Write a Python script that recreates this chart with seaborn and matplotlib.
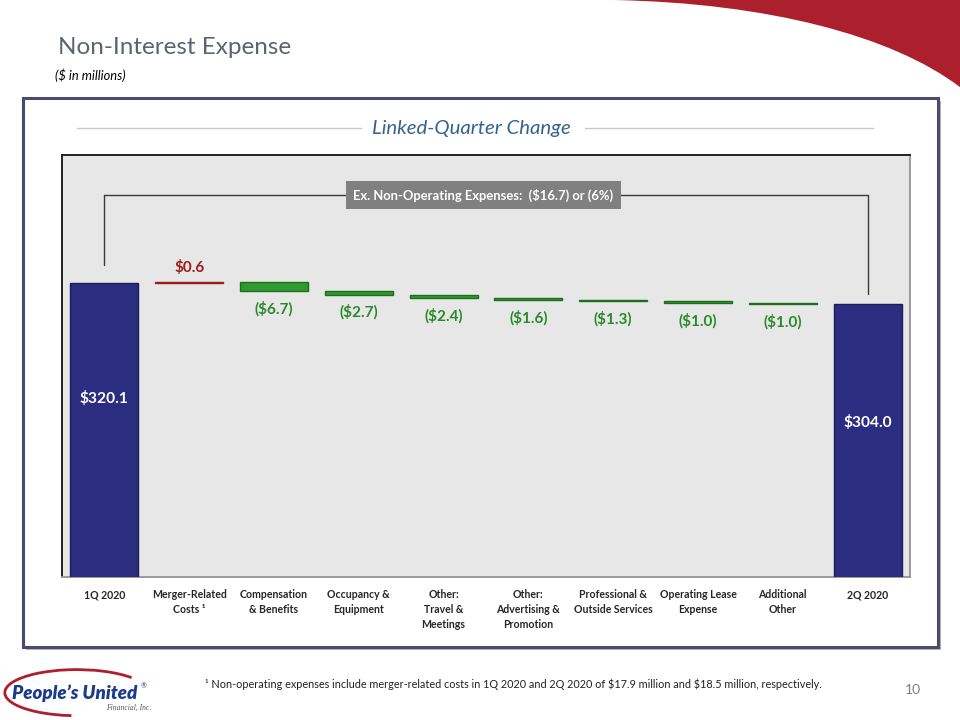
import numpy as np
import pandas as pd
import matplotlib.pyplot as plt
import matplotlib.patches as mpatches
from matplotlib.path import Path
import seaborn as sns

# chart data
categories = ["1Q 2020", "Merger-Related\nCosts \u00b9", "Compensation\n& Benefits", "Occupancy &\nEquipment",
              "Other:\nTravel &\nMeetings", "Other:\nAdvertising &\nPromotion", "Professional &\nOutside Services",
              "Operating Lease\nExpense", "Additional\nOther", "2Q 2020"]
start_total = 320.1
end_total = 304.0
changes = [0.6, -6.7, -2.7, -2.4, -1.6, -1.3, -1.0, -1.0]
value_labels = ["$320.1", "$0.6", "($6.7)", "($2.7)", "($2.4)", "($1.6)", "($1.3)", "($1.0)", "($1.0)", "$304.0"]
bracket_text = "Ex. Non-Operating Expenses:  ($16.7) or (6%)"
footnote = ("\u00b9 Non-operating expenses include merger-related costs in 1Q 2020 and 2Q 2020 "
            "of \\$17.9 million and \\$18.5 million, respectively.")

# waterfall geometry from the data
levels = start_total + np.cumsum([0.0] + changes)
lows = np.minimum(levels[:-1], levels[1:])
highs = np.maximum(levels[:-1], levels[1:])
bottoms = np.concatenate([[0.0], lows, [0.0]])
heights = np.concatenate([[start_total], highs - lows, [end_total]])
tops = bottoms + heights

df = pd.DataFrame({"category": categories, "height": heights})

navy = "#2b2d80"
green = "#2f9a2f"
dark_red = "#9b1b1b"
label_green = "#2a8a2a"

sns.set_style("white")
plt.rcParams["font.family"] = ["Lato", "DejaVu Sans"]

fig = plt.figure(figsize=(9.6, 7.2), dpi=100)

# red swoosh in the top-right corner
swoosh = Path([(0.6385, 1.0), (0.80, 0.996), (0.93, 0.95), (1.0, 0.879), (1.0, 1.0), (0.6385, 1.0)],
              [Path.MOVETO, Path.CURVE4, Path.CURVE4, Path.CURVE4, Path.LINETO, Path.CLOSEPOLY])
fig.patches.append(mpatches.PathPatch(swoosh, transform=fig.transFigure, facecolor="#ac1f2d",
                                      edgecolor="none", zorder=0))

# white panel with shadow
fig.patches.append(mpatches.Rectangle((0.027, 0.097), 0.953, 0.7625, transform=fig.transFigure,
                                      facecolor="#b5b5b5", edgecolor="none", zorder=-2))
fig.patches.append(mpatches.Rectangle((0.024, 0.1014), 0.953, 0.7625, transform=fig.transFigure,
                                      facecolor="white", edgecolor="#4b4b6e", linewidth=2.2, zorder=-1))

# titles
fig.text(0.0604, 0.9347, "Non-Interest Expense", ha="left", va="center", fontsize=17.5, color="#596570")
fig.text(0.0573, 0.8958, "($ in millions)", ha="left", va="center", fontsize=9.3, style="italic", color="black")
fig.text(0.4906, 0.8222, "Linked-Quarter Change", ha="center", va="center", fontsize=14.7,
         style="italic", color="#34628f")
fig.add_artist(plt.Line2D([77 / 960, 361 / 960], [0.8222, 0.8222], transform=fig.transFigure,
                          color="#c8c8c8", linewidth=1))
fig.add_artist(plt.Line2D([585 / 960, 873 / 960], [0.8222, 0.8222], transform=fig.transFigure,
                          color="#c8c8c8", linewidth=1))

# chart area
ax = fig.add_axes([62 / 960, 1 - 577 / 720, 848 / 960, 422 / 720])
ax.set_zorder(2)
sns.barplot(data=df, x="category", y="height", bottom=bottoms, width=0.8, errorbar=None,
            color=navy, ax=ax, zorder=3)

colors = [navy] + [dark_red if c > 0 else green for c in changes] + [navy]
edges = ["#1c1e5c"] + [dark_red if c > 0 else "#1e6e1e" for c in changes] + ["#1c1e5c"]
for patch, fc, ec in zip(ax.patches, colors, edges):
    patch.set_facecolor(fc)
    patch.set_edgecolor(ec)
    patch.set_linewidth(1)

ax.set_facecolor("#e7e7e7")
ax.set_ylim(94.7, 418.3)
ax.set_xlim(-0.5, len(categories) - 0.5)
ax.set_xlabel("")
ax.set_ylabel("")
ax.set_yticks([])
for side in ["top", "left", "right", "bottom"]:
    ax.spines[side].set_visible(True)
    ax.spines[side].set_color("#222222")
    ax.spines[side].set_linewidth(1.4)
ax.spines["right"].set_color("#9a9a9a")
ax.spines["bottom"].set_color("#9a9a9a")

ax.set_xticks(range(len(categories)))
ax.set_xticklabels(categories, fontsize=7.6, fontweight="bold", linespacing=1.42)
ax.tick_params(axis="x", which="major", length=0, pad=9)
ax.set_xticks(np.arange(-0.5, len(categories), 1.0), minor=True)
ax.tick_params(axis="x", which="minor", length=4, color="#9a9a9a", width=1)

# value labels
for i, (lab, lo, hi) in enumerate(zip(value_labels, bottoms, tops)):
    if i == 0 or i == len(categories) - 1:
        off = -115 if i == 0 else -118
        ax.annotate(lab, (i, hi), xytext=(0, off), textcoords="offset pixels", ha="center", va="center",
                    color="white", fontsize=11.2, fontweight="bold", zorder=5)
    elif changes[i - 1] > 0:
        ax.annotate(lab, (i, hi), xytext=(0, 7), textcoords="offset pixels", ha="center", va="bottom",
                    color=dark_red, fontsize=11, fontweight="bold", zorder=5)
    else:
        ax.annotate(lab, (i, lo), xytext=(0, -10), textcoords="offset pixels", ha="center", va="top",
                    color=label_green, fontsize=11, fontweight="bold", zorder=5)

# bracket for operating expense change
last = len(categories) - 1
ax.plot([0, 0, last, last], [334.0, 387.6, 387.6, 311.7], color="#3a3a3a", linewidth=1, zorder=2)
ax.text(4.47, 387.6, bracket_text, ha="center", va="center", fontsize=9.4, fontweight="bold", color="white",
        zorder=4, bbox=dict(boxstyle="square,pad=0.55", facecolor="#808080", edgecolor="none"))

# footer
fig.text(0.2135, 0.05, footnote, ha="left", va="center", fontsize=7.85, color="#222222")
fig.text(0.943, 0.0417, "10", ha="left", va="center", fontsize=10, color="#7f7f7f")
fig.text(12 / 960, 0.0375, "People\u2019s United", ha="left", va="center", fontsize=13.5, fontweight="heavy",
         style="italic", color="#1b3c8c")
fig.text(141 / 960, 1 - 686 / 720, "\u00ae", ha="left", va="center", fontsize=5, color="#1b3c8c")
fig.text(106 / 960, 1 - 708 / 720, "Financial, Inc.", ha="left", va="center", fontsize=5.5,
         style="italic", color="#555555", family=["Liberation Serif", "DejaVu Serif"])
fig.patches.append(mpatches.Arc((0.08, 0.038), 0.15, 0.064, theta1=20, theta2=260,
                                transform=fig.transFigure, color="#b01e2d", linewidth=2))

fig.savefig("out.png", dpi=100)
